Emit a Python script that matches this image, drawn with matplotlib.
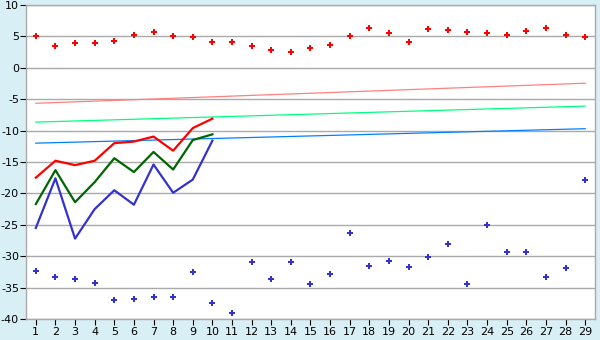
import matplotlib
matplotlib.use('Agg')
import matplotlib.pyplot as plt

plt.rcParams['axes.unicode_minus'] = False

cats = list(range(1, 30))

# scatter series (diamonds)
red_pts = [5.0, 3.5, 4.0, 4.0, 4.2, 5.2, 5.7, 5.0, 4.9, 4.1,
           4.1, 3.5, 2.8, 2.5, 3.1, 3.6, 5.0, 6.3, 5.5, 4.1,
           6.2, 6.0, 5.7, 5.5, 5.2, 5.85, 6.3, 5.2, 4.9]
blue_pts = [-32.3, -33.3, -33.7, -34.2, -36.9, -36.8, -36.45, -36.45, -32.5, -37.4,
            -39.0, -30.9, -33.7, -30.9, -34.5, -32.8, -26.3, -31.5, -30.7, -31.7,
            -30.2, -28.0, -34.5, -25.1, -29.4, -29.3, -33.3, -31.8, -17.8]

# line series (first 10 categories)
line_x = cats[:10]
red_line = [-17.5, -14.8, -15.5, -14.8, -12.0, -11.75, -10.95, -13.2, -9.6, -8.1]
green_line = [-21.7, -16.3, -21.4, -18.2, -14.4, -16.6, -13.4, -16.2, -11.5, -10.6]
blue_line = [-25.5, -17.6, -27.2, -22.5, -19.5, -21.8, -15.4, -19.9, -17.8, -11.6]

# trend lines: value at first and last category
trend_x = [1, 29]
trend_salmon = [-5.65, -2.45]
trend_green = [-8.65, -6.1]
trend_blue = [-12.0, -9.7]

fig = plt.figure(figsize=(6, 3.4), dpi=100)
fig.patch.set_facecolor('#d9eff6')
ax = fig.add_axes([26/600, 1 - 319/340, 569/600, 314/340])
ax.set_facecolor('white')

ax.plot(trend_x, trend_salmon, color='#ff8080', lw=0.9)
ax.plot(trend_x, trend_green, color='#00ff80', lw=0.9)
ax.plot(trend_x, trend_blue, color='#0080ff', lw=0.9)

ax.plot(line_x, blue_line, color='#3333cc', lw=1.6)
ax.plot(line_x, green_line, color='#006600', lw=1.6)
ax.plot(line_x, red_line, color='#ff0000', lw=1.6)

ax.plot(cats, red_pts, ls='none', marker='P', ms=4.5, color='#ff0000', mew=0)
ax.plot(cats, blue_pts, ls='none', marker='P', ms=4.5, color='#3333cc', mew=0)

ax.set_xlim(0.5, 29.5)
ax.set_ylim(-40, 10)
ax.set_xticks(cats)
ax.set_yticks(range(-40, 11, 5))
ax.grid(axis='y', color='#aaaaaa', lw=1)
ax.set_axisbelow(True)
for s in ax.spines.values():
    s.set_color('#aaaaaa')
    s.set_linewidth(1)
ax.tick_params(axis='both', colors='black', labelsize=8, length=4, width=0.8, pad=1)
ax.tick_params(axis='x', pad=2)

fig.savefig('out.png', dpi=100, facecolor=fig.get_facecolor())
